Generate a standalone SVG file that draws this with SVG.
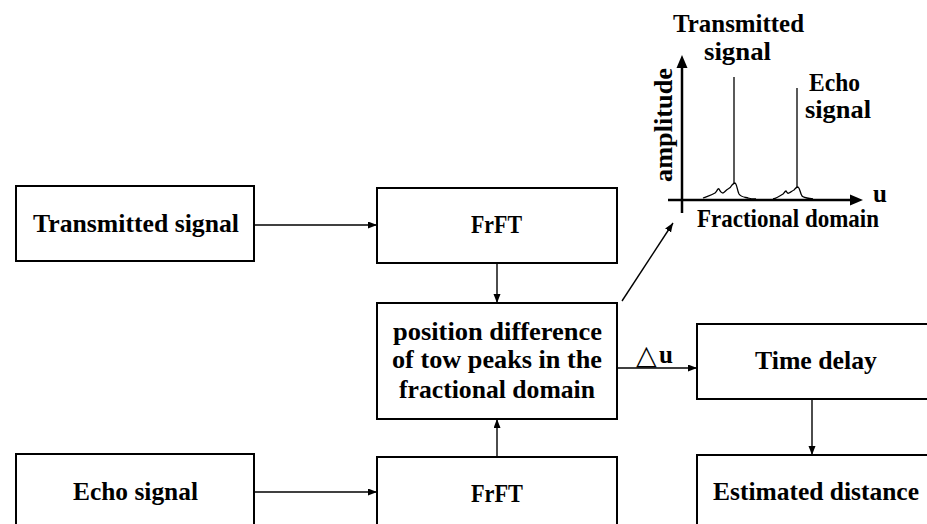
<svg xmlns="http://www.w3.org/2000/svg" width="927" height="524" viewBox="0 0 927 524">
<defs>
<marker id="ah" markerUnits="userSpaceOnUse" markerWidth="10" markerHeight="8" refX="9" refY="3.5" orient="auto">
<path d="M0,0 L9,3.5 L0,7 z" fill="#000"/>
</marker>
</defs>
<style>
.box{fill:#fff;stroke:#000;stroke-width:2}
.t{font-family:'Liberation Serif','Times New Roman',serif;font-weight:700;font-size:25px;fill:#000}
.c{stroke:#000;stroke-width:1.4;fill:none;marker-end:url(#ah)}
.ax{stroke:#000;stroke-width:2.5;fill:none}
.pk{stroke:#000;stroke-width:1.3;fill:none}
</style>
<rect width="927" height="524" fill="#fff"/>

<g id="transmitted">
<rect class="box" x="16" y="186" width="238" height="75"/>
<text class="t" font-family="Liberation Serif, serif" x="33" y="232" textLength="206" lengthAdjust="spacingAndGlyphs">Transmitted signal</text>
</g>
<g id="frft-top">
<rect class="box" x="377" y="188" width="240" height="75"/>
<text class="t" x="471" y="233" textLength="51" lengthAdjust="spacingAndGlyphs">FrFT</text>
</g>
<g id="position-difference">
<rect class="box" x="377" y="303" width="240" height="116"/>
<text class="t" x="393" y="340" textLength="209" lengthAdjust="spacingAndGlyphs">position difference</text>
<text class="t" x="392" y="368" textLength="210" lengthAdjust="spacingAndGlyphs">of tow peaks in the</text>
<text class="t" x="399" y="398" textLength="196" lengthAdjust="spacingAndGlyphs">fractional domain</text>
</g>
<g id="time-delay">
<rect class="box" x="697" y="324" width="245" height="75"/>
<text class="t" x="755" y="369" textLength="122" lengthAdjust="spacingAndGlyphs">Time delay</text>
</g>
<g id="echo">
<rect class="box" x="16" y="454" width="238" height="90"/>
<text class="t" x="73" y="500" textLength="125" lengthAdjust="spacingAndGlyphs">Echo signal</text>
</g>
<g id="frft-bottom">
<rect class="box" x="377" y="457" width="240" height="90"/>
<text class="t" x="471" y="502" textLength="52" lengthAdjust="spacingAndGlyphs">FrFT</text>
</g>
<g id="estimated-distance">
<rect class="box" x="697" y="455" width="245" height="90"/>
<text class="t" x="713" y="500" textLength="206" lengthAdjust="spacingAndGlyphs">Estimated distance</text>
</g>

<g id="plot">
<line class="ax" x1="682" y1="213" x2="682" y2="64"/>
<polygon points="682,55 676.5,68 687.5,68" fill="#000"/>
<line class="ax" x1="668" y1="200" x2="852" y2="200"/>
<polygon points="863,200 850,194.5 850,205.5" fill="#000"/>
<line class="pk" x1="734" y1="77" x2="734" y2="183"/>
<line class="pk" x1="797" y1="88" x2="797" y2="187"/>
<path class="pk" d="M703,198 C708,196 712,195 715,193 C717,191 718,188 719,189 C720,191 721,193 723,193 C725,192 726,190 728,189 C730,188 731,187 732,185 C733,184 734,183 735,183 C737,184 737,190 739,194 C741,197 744,197 748,198 C751,199 753,199 756,199"/>
<path class="pk" d="M773,199 C777,198 780,196 783,194 C784,193 785,191 786,191 C787,192 787,194 789,193 C791,192 792,191 794,190 C795,189 796,187 798,187 C800,188 800,193 802,196 C804,198 807,198 813,199"/>
<text class="t" x="673" y="32" textLength="131" lengthAdjust="spacingAndGlyphs">Transmitted</text>
<text class="t" x="704" y="60" textLength="67" lengthAdjust="spacingAndGlyphs">signal</text>
<text class="t" x="809" y="91" textLength="51" lengthAdjust="spacingAndGlyphs">Echo</text>
<text class="t" x="805" y="118" textLength="66" lengthAdjust="spacingAndGlyphs">signal</text>
<text class="t" transform="translate(672,182) rotate(-90)" x="0" y="0" textLength="114" lengthAdjust="spacingAndGlyphs">amplitude</text>
<text class="t" x="873" y="202">u</text>
<text class="t" x="697" y="227" textLength="182" lengthAdjust="spacingAndGlyphs">Fractional domain</text>
</g>

<g id="connectors">
<line class="c" x1="254" y1="225" x2="377" y2="225"/>
<line class="c" x1="254" y1="492" x2="377" y2="492"/>
<line class="c" x1="497" y1="263" x2="497" y2="303"/>
<line class="c" x1="497" y1="457" x2="497" y2="419"/>
<line class="c" x1="617" y1="368" x2="697" y2="368"/>
<line class="c" x1="812" y1="399" x2="812" y2="455"/>
<line class="c" x1="622" y1="301" x2="673" y2="223"/>
<text x="636" y="364" font-family="DejaVu Sans, sans-serif" font-size="27" font-weight="normal">△</text>
<text class="t" x="659" y="363">u</text>
</g>
</svg>
